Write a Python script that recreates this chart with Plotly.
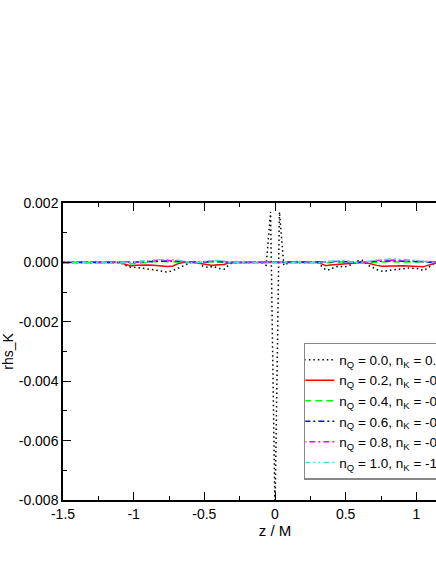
import plotly.graph_objects as go

# ---- data ----
z = [-1.5, -1.2, -1.1, -1.06, -1.02, -0.98, -0.94, -0.90, -0.86, -0.83,
     -0.79, -0.76, -0.72, -0.69, -0.65, -0.61, -0.58, -0.54, -0.51, -0.47,
     -0.44, -0.40, -0.36, -0.33, -0.30, -0.22, -0.1, -0.0625, -0.03125, 0.0,
     0.03125, 0.0625, 0.1, 0.22, 0.30, 0.33, 0.36, 0.39, 0.42, 0.46,
     0.49, 0.52, 0.56, 0.59, 0.62, 0.66, 0.69, 0.72, 0.76, 0.80,
     0.84, 0.87, 0.91, 0.94, 0.98, 1.01, 1.05, 1.08, 1.11, 1.15,
     1.2, 1.5]

rhs_q00 = [0, 0, 0, -1.0e-4, -1.6e-4, -1.7e-4, -1.9e-4, -2.1e-4, -2.5e-4, -2.7e-4,
           -3.0e-4, -3.3e-4, -2.7e-4, -2.0e-4, -1.2e-4, -0.3e-4, 0.3e-4, 0.1e-4, -1.3e-4, -1.7e-4,
           -1.3e-4, -2.0e-4, -2.3e-4, -1.0e-4, 0, 0, 0, -1.0e-4, 1.7e-3, -8.4e-3,
           1.7e-3, -1.0e-4, 0, 0, 0, -1.3e-4, -2.5e-4, -2.5e-4, -1.6e-4, -1.3e-4,
           -1.6e-4, -1.1e-4, -0.3e-4, 0.6e-4, 0.7e-4, -1.0e-4, -1.7e-4, -2.4e-4, -3.0e-4, -2.8e-4,
           -2.5e-4, -2.5e-4, -2.1e-4, -1.9e-4, -1.9e-4, -2.1e-4, -2.7e-4, -2.0e-4, -0.7e-4, 0,
           0, 0]

rhs_q02 = [0, 0, 0, -0.6e-4, -1.2e-4, -1.0e-4, -0.9e-4, -0.9e-4, -1.0e-4, -1.1e-4,
           -1.3e-4, -1.4e-4, -1.2e-4, -0.5e-4, 0, 0.1e-4, 0, -0.3e-4, -0.5e-4, -0.9e-4,
           -1.0e-4, -0.8e-4, -0.7e-4, -0.2e-4, 0, 0, 0, 0, 0, 0,
           0, 0, 0, 0, 0, -0.5e-4, -1.1e-4, -0.9e-4, -0.8e-4, -0.6e-4,
           -0.5e-4, -0.4e-4, -0.1e-4, 0, 0, -0.3e-4, -0.7e-4, -1.0e-4, -1.3e-4, -1.2e-4,
           -1.1e-4, -1.1e-4, -1.1e-4, -1.2e-4, -1.3e-4, -1.4e-4, -1.5e-4, -1.0e-4, -0.5e-4, 0,
           0, 0]

rhs_q04 = [0, 0, 0, -0.2e-4, -0.5e-4, -0.4e-4, -0.2e-4, 0, 0.2e-4, 0.3e-4,
           0.3e-4, 0.2e-4, 0.1e-4, 0.2e-4, 0.1e-4, 0, 0, 0, -0.1e-4, 0.1e-4,
           0.2e-4, 0.1e-4, -0.1e-4, 0, 0, 0, 0, 0, 0, 0,
           0, 0, 0, 0, 0, 0, -0.2e-4, -0.1e-4, 0.1e-4, 0.2e-4,
           0.2e-4, 0.1e-4, 0, 0, 0, 0, -0.1e-4, 0, 0.1e-4, 0.2e-4,
           0.2e-4, 0.2e-4, 0.1e-4, 0.1e-4, 0.1e-4, 0, 0, 0, 0, 0,
           0, 0]

rhs_q06 = [0, 0, 0, 0, -0.1e-4, 0.1e-4, 0.2e-4, 0.3e-4, 0.4e-4, 0.5e-4,
           0.5e-4, 0.5e-4, 0.4e-4, 0.3e-4, 0.2e-4, 0, 0, 0, 0.1e-4, 0.3e-4,
           0.3e-4, 0.3e-4, 0.2e-4, 0, 0, 0, 0, 0, 0, 0,
           0, 0, 0, 0, 0, 0, 0.1e-4, 0.2e-4, 0.3e-4, 0.3e-4,
           0.3e-4, 0.2e-4, 0, 0, 0, 0.2e-4, 0.3e-4, 0.4e-4, 0.5e-4, 0.5e-4,
           0.5e-4, 0.5e-4, 0.4e-4, 0.4e-4, 0.3e-4, 0.3e-4, 0.2e-4, 0.1e-4, 0, 0,
           0, 0]

rhs_q08 = [0, 0, 0, 0, 0, 0.2e-4, 0.3e-4, 0.5e-4, 0.6e-4, 0.7e-4,
           0.7e-4, 0.7e-4, 0.6e-4, 0.5e-4, 0.3e-4, 0, 0, 0, 0.2e-4, 0.4e-4,
           0.4e-4, 0.5e-4, 0.3e-4, 0, 0, 0, 0, 0, 0, 0,
           0, 0, 0, 0, 0, 0, 0.2e-4, 0.3e-4, 0.4e-4, 0.4e-4,
           0.4e-4, 0.3e-4, 0, 0, 0, 0.3e-4, 0.5e-4, 0.6e-4, 0.7e-4, 0.8e-4,
           0.8e-4, 0.7e-4, 0.6e-4, 0.6e-4, 0.5e-4, 0.4e-4, 0.3e-4, 0.1e-4, 0, 0,
           0, 0]

rhs_q10 = [0, 0, 0, 0, 0, 0.3e-4, 0.5e-4, 0.7e-4, 0.8e-4, 0.9e-4,
           1.0e-4, 1.0e-4, 0.9e-4, 0.8e-4, 0.4e-4, 0, 0, 0, 0.3e-4, 0.6e-4,
           0.6e-4, 0.6e-4, 0.4e-4, 0, 0, 0, 0, 0, 0, 0,
           0, 0, 0, 0, 0, 0, 0.3e-4, 0.4e-4, 0.5e-4, 0.6e-4,
           0.6e-4, 0.4e-4, 0, 0, 0, 0.4e-4, 0.6e-4, 0.8e-4, 1.0e-4, 1.1e-4,
           1.2e-4, 1.1e-4, 1.0e-4, 0.9e-4, 0.8e-4, 0.7e-4, 0.6e-4, 0.3e-4, 0, 0,
           0, 0]

series_names = [
    "n<sub>Q</sub> = 0.0, n<sub>K</sub> = 0.0",
    "n<sub>Q</sub> = 0.2, n<sub>K</sub> = -0.2",
    "n<sub>Q</sub> = 0.4, n<sub>K</sub> = -0.4",
    "n<sub>Q</sub> = 0.6, n<sub>K</sub> = -0.6",
    "n<sub>Q</sub> = 0.8, n<sub>K</sub> = -0.8",
    "n<sub>Q</sub> = 1.0, n<sub>K</sub> = -1.0",
]
series_values = [rhs_q00, rhs_q02, rhs_q04, rhs_q06, rhs_q08, rhs_q10]

x_tickvals = [-1.5, -1.0, -0.5, 0.0, 0.5, 1.0, 1.5]
x_ticktext = ["-1.5", "-1", "-0.5", "0", "0.5", "1", "1.5"]
x_minor = [-1.25, -0.75, -0.25, 0.25, 0.75, 1.25]
y_tickvals = [-0.008, -0.006, -0.004, -0.002, 0.0, 0.002]
y_ticktext = ["-0.008", "-0.006", "-0.004", "-0.002", "0.000", "0.002"]
y_minor = [-0.007, -0.005, -0.003, -0.001, 0.001]

# ---- styles ----
colors = ["#000000", "#ff0000", "#00ff00", "#0000ff", "#ff00ff", "#40e0d0"]
dashes = ["1.5px,3px", "solid", "7px,4px", "6px,3px,2px,3px",
          "2px,3px,6px,3px", "6px,3px,2px,3px,2px,3px"]

FONT = "Liberation Sans, Arial, Helvetica, sans-serif"

fig = go.Figure()
for name, vals, c, d in zip(series_names, series_values, colors, dashes):
    fig.add_trace(go.Scatter(x=z, y=vals, mode="lines", name=name,
                             line=dict(color=c, width=1.5, dash=d)))

axis_common = dict(
    automargin=False,
    showline=True, linecolor="black", linewidth=1.5, mirror="allticks",
    ticks="inside", ticklen=8, tickwidth=1, tickcolor="black",
    showgrid=False, zeroline=False,
    tickfont=dict(family=FONT, size=14, color="black"),
)

fig.update_layout(
    width=620, height=564,
    margin=dict(l=63, r=133, t=203, b=64, autoexpand=False),
    paper_bgcolor="white", plot_bgcolor="white",
    font=dict(family=FONT, size=14, color="black"),
    showlegend=True,
    legend=dict(x=0.568, y=0.529, xanchor="left", yanchor="top",
                bgcolor="white", bordercolor="#888888", borderwidth=1.5,
                font=dict(family=FONT, size=13.5, color="black"),
                tracegroupgap=0, itemwidth=30, indentation=-6),
    xaxis=dict(range=[-1.5, 1.5], tickvals=x_tickvals, ticktext=x_ticktext,
               minor=dict(tickvals=x_minor, ticks="inside", ticklen=4, tickcolor="black"),
               title=dict(text="z / M", font=dict(family=FONT, size=15), standoff=2),
               **axis_common),
    yaxis=dict(range=[-0.008, 0.002], tickvals=y_tickvals, ticktext=y_ticktext,
               minor=dict(tickvals=y_minor, ticks="inside", ticklen=4, tickcolor="black"),
               title=dict(text="rhs_K", font=dict(family=FONT, size=14), standoff=3),
               **axis_common),
)

fig.write_html("out.html",
               config={"displayModeBar": False},
               post_script="document.body.style.margin='0';document.body.style.overflow='hidden';")
